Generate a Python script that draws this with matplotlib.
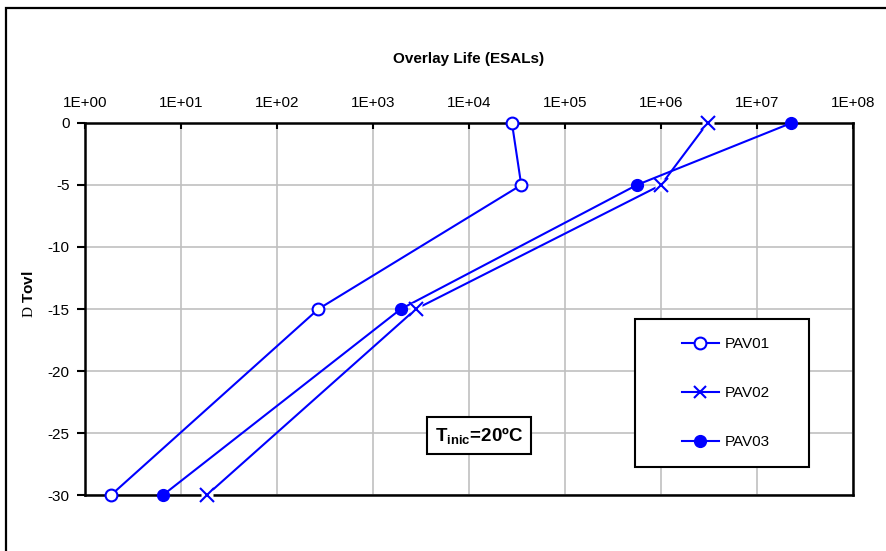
import matplotlib
matplotlib.use("Agg")
import matplotlib.pyplot as plt
from matplotlib.patches import Rectangle
import numpy as np

plt.rcParams['font.family'] = ['Liberation Sans', 'DejaVu Sans']
plt.rcParams['axes.unicode_minus'] = False
plt.rcParams['mathtext.fontset'] = 'custom'
plt.rcParams['mathtext.rm'] = 'Liberation Serif'
plt.rcParams['mathtext.bf'] = 'Liberation Sans:bold'

# ovl temperature change vs overlay life
dtovl = [0, -5, -15, -30]
pav01 = [2.8e4, 3.5e4, 2.7e2, 1.87]
pav02 = [3.05e6, 1.0e6, 2.8e3, 18.6]
pav03 = [2.28e7, 5.6e5, 1.95e3, 6.5]

xticks = [1e0, 1e1, 1e2, 1e3, 1e4, 1e5, 1e6, 1e7, 1e8]
xlabels = ['1E+00', '1E+01', '1E+02', '1E+03', '1E+04', '1E+05', '1E+06', '1E+07', '1E+08']
yticks = [0, -5, -10, -15, -20, -25, -30]

blue = '#0000ff'
fig = plt.figure(figsize=(8.87, 5.51), dpi=100)
ax = fig.add_axes([0.0958, 0.1016, 0.8659, 0.6752])

# outer chart border (cut off on right and bottom)
fig.patches.append(Rectangle((6/887, -0.2), 1.2, 1.2 - 8/551, transform=fig.transFigure,
                             fill=False, edgecolor='black', lw=1.6))

ax.plot(pav01, dtovl, color=blue, lw=1.5, marker='o', ms=8.5, mfc='white', mec=blue, mew=1.5,
        label='PAV01', clip_on=False, zorder=5)
ax.plot(pav02, dtovl, color=blue, lw=1.5, label='_nolegend_', clip_on=False, zorder=5)
# white patch behind the x markers, like excel does
ax.plot(pav02, dtovl, ls='none', marker='s', ms=8, mfc='white', mec='none',
        clip_on=False, zorder=5.5)
ax.plot(pav02, dtovl, ls='none', marker='x', ms=9.5, mec=blue, mew=1.5,
        clip_on=False, zorder=5.6)
ax.plot(pav03, dtovl, color=blue, lw=1.5, marker='o', ms=8.5, mfc=blue, mec=blue,
        label='PAV03', clip_on=False, zorder=5)

# legend handle for PAV02
h02, = ax.plot([], [], color=blue, lw=1.5, marker='x', ms=9, mew=1.5, label='PAV02')

ax.set_xscale('log')
ax.set_xlim(1e0, 1e8)
ax.set_ylim(-30, 0)
ax.set_xticks(xticks, xlabels)
ax.minorticks_off()
ax.set_yticks(yticks)
ax.xaxis.tick_top()
ax.tick_params(axis='x', direction='in', length=4, width=1.5, pad=9, labelsize=11)
ax.tick_params(axis='y', direction='out', length=6, width=1.5, pad=5, labelsize=11)
ax.grid(True, color='#c0c0c0', lw=1.2)
ax.set_axisbelow(True)
for s in ax.spines.values():
    s.set_linewidth(1.8)
    s.set_color('black')

ax.set_ylabel(r'$\mathrm{D}$ Tovl', fontsize=11, fontweight='bold')
ax.yaxis.set_label_coords(-0.064, 0.54)
fig.text(469/887, 1 - 59/551, 'Overlay Life (ESALs)', ha='center', va='center',
         fontsize=11, fontweight='bold')

ax.text(0.513, 0.159, r'$\mathbf{T}_{\mathbf{inic}}$=20ºC', transform=ax.transAxes,
        ha='center', va='center', fontsize=13.5, fontweight='bold', zorder=6,
        bbox=dict(boxstyle='square,pad=0.42', fc='white', ec='black', lw=1.5))

# legend box
ax.add_patch(Rectangle((0.716, 0.075), 0.227, 0.398, transform=ax.transAxes,
                       fc='white', ec='black', lw=1.5, zorder=6, clip_on=False))
handles, labels = ax.get_legend_handles_labels()
order = [labels.index(n) for n in ['PAV01', 'PAV02', 'PAV03']]
leg = ax.legend([handles[i] for i in order], [labels[i] for i in order],
                loc='center', bbox_to_anchor=(0.8345, 0.274), frameon=False,
                fontsize=11, labelspacing=2.3, handlelength=2.4, handletextpad=0.4)
leg.set_zorder(7)

fig.savefig('out.png', dpi=100)
